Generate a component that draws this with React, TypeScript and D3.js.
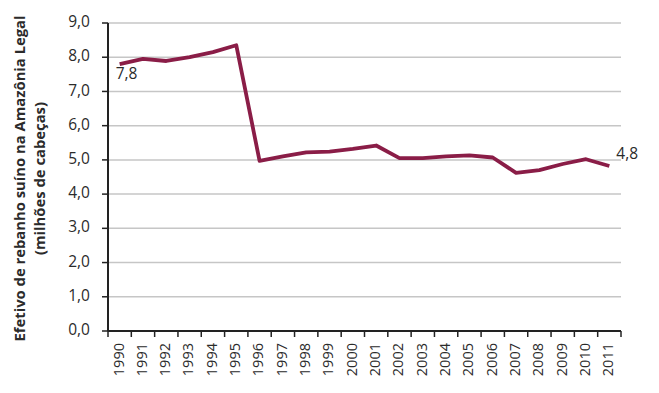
import * as d3 from "d3";

const WIDTH = 659;
const HEIGHT = 393;
const MARGIN = { top: 23, right: 38, bottom: 62, left: 108 };

const years = [
  "1990", "1991", "1992", "1993", "1994", "1995", "1996", "1997", "1998", "1999", "2000",
  "2001", "2002", "2003", "2004", "2005", "2006", "2007", "2008", "2009", "2010", "2011",
];
const herd = [
  7.8, 7.95, 7.89, 8.0, 8.15, 8.35, 4.97, 5.1, 5.22, 5.24, 5.32,
  5.42, 5.05, 5.05, 5.1, 5.13, 5.07, 4.62, 4.7, 4.88, 5.02, 4.82,
];
const yTicks = [0, 1, 2, 3, 4, 5, 6, 7, 8, 9];

const FONT = "'Open Sans', 'DejaVu Sans', sans-serif";
const LINE_COLOR = "#8a1d47";
const TEXT_COLOR = "#2b2b2b";

export default function App() {
  const boundsWidth = WIDTH - MARGIN.left - MARGIN.right;
  const boundsHeight = HEIGHT - MARGIN.top - MARGIN.bottom;

  const xScale = d3.scaleBand().domain(years).range([0, boundsWidth]).padding(0);
  const yScale = d3.scaleLinear().domain([0, 9]).range([boundsHeight, 0]);
  const fmt = (v: number) => v.toFixed(1).replace(".", ",");

  const points = years.map((y, i) => ({ year: y, value: herd[i] }));
  const linePath = d3
    .line<{ year: string; value: number }>()
    .x((d) => (xScale(d.year) ?? 0) + xScale.bandwidth() / 2)
    .y((d) => yScale(d.value))(points);

  const first = points[0];
  const last = points[points.length - 1];
  const cx = (y: string) => (xScale(y) ?? 0) + xScale.bandwidth() / 2;

  return (
    <svg
      width={WIDTH}
      height={HEIGHT}
      style={{ position: "absolute", left: 0, top: 0, background: "#fff" }}
      fontFamily={FONT}
    >
      {/* axis title */}
      <g transform={`translate(21, 178.5) rotate(-90)`}>
        <text textAnchor="middle" dominantBaseline="middle" fontSize={14.8} fontWeight="bold" fill={TEXT_COLOR}>
          Efetivo de rebanho suíno na Amazônia Legal
        </text>
        <text y={20} textAnchor="middle" dominantBaseline="middle" fontSize={14.8} fontWeight="bold" fill={TEXT_COLOR}>
          (milhões de cabeças)
        </text>
      </g>

      <g transform={`translate(${MARGIN.left},${MARGIN.top})`}>
        {/* grid */}
        {yTicks.slice(1).map((t) => (
          <line key={t} x1={0} x2={boundsWidth} y1={yScale(t)} y2={yScale(t)} stroke="#c6c6c6" strokeWidth={1.5} />
        ))}

        {/* y ticks + labels */}
        {yTicks.map((t) => (
          <g key={t}>
            <line x1={-6} x2={0} y1={yScale(t)} y2={yScale(t)} stroke="#222" strokeWidth={1.5} />
            <text
              x={-18}
              y={yScale(t)}
              textAnchor="end"
              dominantBaseline="middle"
              fontSize={15.5}
              fill={TEXT_COLOR}
            >
              {fmt(t)}
            </text>
          </g>
        ))}

        {/* x ticks at band edges */}
        {[...years.map((y) => xScale(y) ?? 0), boundsWidth].map((x, i) => (
          <line key={i} x1={x} x2={x} y1={boundsHeight} y2={boundsHeight + 6} stroke="#222" strokeWidth={1.5} />
        ))}

        {/* x labels */}
        {years.map((y) => (
          <text
            key={y}
            transform={`translate(${cx(y)}, ${boundsHeight + 12}) rotate(-90)`}
            textAnchor="end"
            dominantBaseline="middle"
            fontSize={14.5}
            fill={TEXT_COLOR}
          >
            {y}
          </text>
        ))}

        {/* axes */}
        <line x1={0} x2={0} y1={0} y2={boundsHeight} stroke="#222" strokeWidth={2} />
        <line x1={0} x2={boundsWidth} y1={boundsHeight} y2={boundsHeight} stroke="#222" strokeWidth={2} />

        {/* series */}
        <path d={linePath ?? ""} fill="none" stroke={LINE_COLOR} strokeWidth={3.8} strokeLinejoin="round" />

        {/* labels */}
        <text x={cx(first.year) - 4} y={yScale(first.value) + 10.5} fontSize={15.5} fill={TEXT_COLOR} dominantBaseline="middle">
          {fmt(first.value)}
        </text>
        <text x={cx(last.year) + 7} y={yScale(last.value) - 11.5} fontSize={15.5} fill={TEXT_COLOR} dominantBaseline="middle">
          {fmt(last.value)}
        </text>
      </g>
    </svg>
  );
}
